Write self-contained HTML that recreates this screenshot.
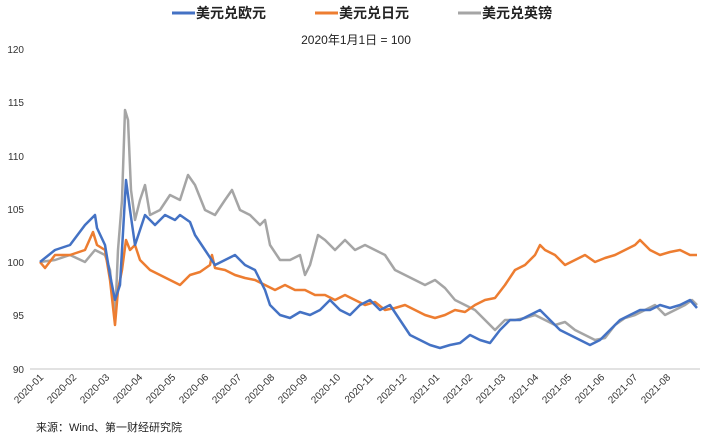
<!DOCTYPE html><html><head><style>body{margin:0;background:#fff}svg text{font-family:"Liberation Sans","Noto Sans CJK SC",sans-serif}</style></head><body>
<svg width="713" height="441" viewBox="0 0 713 441" xmlns="http://www.w3.org/2000/svg">
<rect width="713" height="441" fill="#fff"/>
<g font-size="14" font-weight="bold" fill="#222">
<line x1="172" y1="13" x2="195" y2="13" stroke="#4472C4" stroke-width="3"/><text x="196" y="18">美元兑欧元</text>
<line x1="315" y1="13" x2="338" y2="13" stroke="#ED7D31" stroke-width="3"/><text x="339" y="18">美元兑日元</text>
<line x1="458" y1="13" x2="481" y2="13" stroke="#A5A5A5" stroke-width="3"/><text x="482" y="18">美元兑英镑</text>
</g>
<text x="356" y="44" font-size="12" text-anchor="middle" fill="#222">2020年1月1日 = 100</text>
<g font-size="10" fill="#333" text-anchor="end">
<text x="24" y="53">120</text><text x="24" y="106">115</text><text x="24" y="160">110</text><text x="24" y="213">105</text><text x="24" y="266">100</text><text x="24" y="319">95</text><text x="24" y="373">90</text>
</g>
<line x1="30" y1="369" x2="700" y2="369" stroke="#d9d9d9" stroke-width="1.5"/>
<g font-size="10" fill="#333">
<text transform="translate(44,378) rotate(-45)" text-anchor="end">2020-01</text>
<text transform="translate(77,378) rotate(-45)" text-anchor="end">2020-02</text>
<text transform="translate(110,378) rotate(-45)" text-anchor="end">2020-03</text>
<text transform="translate(143,378) rotate(-45)" text-anchor="end">2020-04</text>
<text transform="translate(176,378) rotate(-45)" text-anchor="end">2020-05</text>
<text transform="translate(209,378) rotate(-45)" text-anchor="end">2020-06</text>
<text transform="translate(242,378) rotate(-45)" text-anchor="end">2020-07</text>
<text transform="translate(275,378) rotate(-45)" text-anchor="end">2020-08</text>
<text transform="translate(308,378) rotate(-45)" text-anchor="end">2020-09</text>
<text transform="translate(341,378) rotate(-45)" text-anchor="end">2020-10</text>
<text transform="translate(374,378) rotate(-45)" text-anchor="end">2020-11</text>
<text transform="translate(407,378) rotate(-45)" text-anchor="end">2020-12</text>
<text transform="translate(440,378) rotate(-45)" text-anchor="end">2021-01</text>
<text transform="translate(473,378) rotate(-45)" text-anchor="end">2021-02</text>
<text transform="translate(506,378) rotate(-45)" text-anchor="end">2021-03</text>
<text transform="translate(539,378) rotate(-45)" text-anchor="end">2021-04</text>
<text transform="translate(572,378) rotate(-45)" text-anchor="end">2021-05</text>
<text transform="translate(605,378) rotate(-45)" text-anchor="end">2021-06</text>
<text transform="translate(638,378) rotate(-45)" text-anchor="end">2021-07</text>
<text transform="translate(671,378) rotate(-45)" text-anchor="end">2021-08</text>
</g>
<text x="36" y="431" font-size="11" fill="#222">来源：Wind、第一财经研究院</text>
<g fill="none" stroke-width="2.5" stroke-linejoin="round">
<polyline stroke="#A5A5A5" points="40,262 55,260 70,255 85,262 95,250 105,255 110,270 115,320 118,250 122,200 125,110 128,120 131,190 135,220 140,200 145,185 150,215 160,210 170,195 180,200 188,175 195,185 205,210 215,215 225,200 232,190 240,210 250,215 260,225 265,220 270,245 280,260 290,260 300,255 305,275 310,265 318,235 325,240 335,250 345,240 355,250 365,245 375,250 385,255 395,270 405,275 415,280 425,285 435,280 445,288 455,300 465,305 475,310 485,320 495,330 505,320 515,320 525,318 535,315 545,320 555,325 565,322 575,330 585,335 595,340 605,338 615,325 625,318 635,315 645,310 655,305 665,315 675,310 685,305 692,300 697,305"/>
<polyline stroke="#ED7D31" points="40,262 45,268 55,255 70,255 85,250 93,232 97,245 105,250 110,280 115,325 118,290 122,270 126,240 130,250 135,245 140,260 150,270 160,275 170,280 180,285 190,275 200,272 210,265 212,255 215,268 225,270 235,275 245,278 255,280 265,285 275,290 285,285 295,290 305,290 315,295 325,295 335,300 345,295 355,300 365,305 375,302 385,310 395,308 405,305 415,310 425,315 435,318 445,315 455,310 465,312 475,305 485,300 495,298 505,285 515,270 525,265 535,255 540,245 545,250 555,255 565,265 575,260 585,255 595,262 605,258 615,255 625,250 635,245 640,240 650,250 660,255 670,252 680,250 690,255 697,255"/>
<polyline stroke="#4472C4" points="40,262 55,250 70,245 85,225 95,215 97,228 105,245 110,275 115,300 120,285 126,180 130,210 135,245 140,230 145,215 155,225 165,215 175,220 180,215 190,222 195,235 205,250 215,265 225,260 235,255 245,265 255,270 265,290 270,305 280,315 290,318 300,312 310,315 320,310 330,300 340,310 350,315 360,305 370,300 380,310 390,305 400,320 410,335 420,340 430,345 440,348 450,345 460,343 470,335 480,340 490,343 500,330 510,320 520,320 530,315 540,310 550,320 560,330 570,335 580,340 590,345 600,340 610,330 620,320 630,315 640,310 650,310 660,305 670,308 680,305 690,300 697,308"/>
</g>
</svg></body></html>
